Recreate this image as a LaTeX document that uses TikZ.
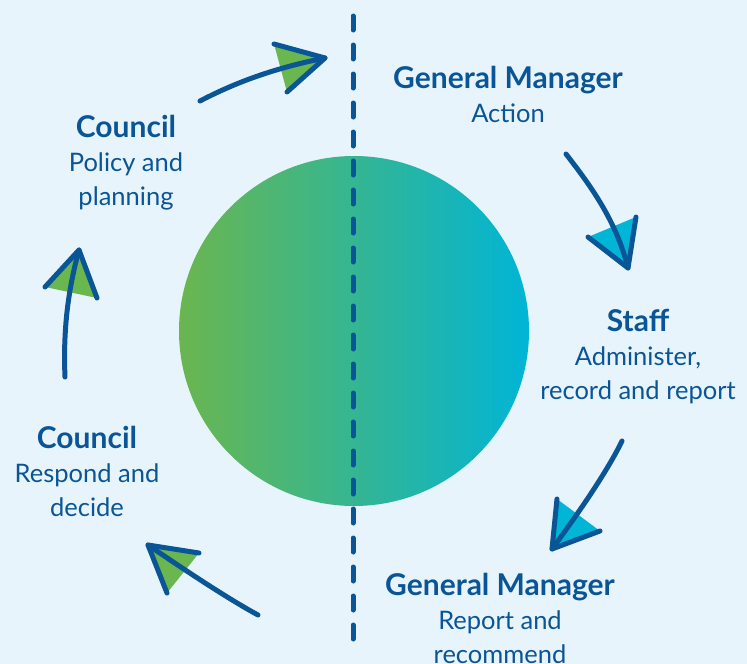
\documentclass[tikz,border=0pt]{standalone}
\usepackage{fontspec}
\setmainfont{Lato}
\newcommand{\hd}[1]{{\fontsize{30}{34}\selectfont\bfseries #1}}
\begin{document}
\begin{tikzpicture}[x=1pt,y=-1pt,
  lbl/.style={text=navyblue,align=center,inner sep=0pt,font=\fontsize{25.5}{34}\selectfont},
  conn/.style={draw=navyblue,line width=5pt,line cap=round,line join=round}]
\definecolor{navyblue}{HTML}{0A5596}
\definecolor{bg}{HTML}{E8F4FB}
\definecolor{lgreen}{HTML}{6AB64F}
\definecolor{lcyan}{HTML}{00B5D6}
\fill[bg] (0,0) rectangle (747,664);
\useasboundingbox (0,0) rectangle (747,664);
% circle
\shade[left color=lgreen,right color=lcyan] (354,331) circle (175);
% dashed divider
\coordinate (dtop) at (353,16);
\coordinate (dbot) at (353,650);
\draw[navyblue,line width=5pt,line cap=round,dash pattern=on 14pt off 15pt] (dtop) -- (dbot);
% labels
\node[lbl] (gm1) at (508,94) {\hd{General Manager}\\Action};
\node[lbl] (c1) at (126,163) {\hd{Council}\\Policy and\\planning};
\node[lbl] (st) at (638,357) {\hd{Staff}\\Administer,\\record and report};
\node[lbl] (c2) at (87,471) {\hd{Council}\\Respond and\\decide};
\node[lbl] (gm2) at (500,618) {\hd{General Manager}\\Report and\\recommend};
% arrow 1 (top left, green)
\coordinate (s1) at (200,101); \coordinate (t1) at (325,58);
\coordinate (a1) at (274,44); \coordinate (b1) at (287,92);
\fill[lgreen] (t1) -- (a1) -- (b1) -- cycle;
\draw[conn] (s1) .. controls (240,80) and (280,67) .. (t1);
\draw[conn] (a1) -- (t1) -- (b1);
% arrow 2 (top right, cyan)
\coordinate (s2) at (566,154); \coordinate (t2) at (628,268);
\coordinate (a2) at (588,237); \coordinate (b2) at (636,217);
\fill[lcyan] (t2) -- (a2) -- (b2) -- cycle;
\draw[conn] (s2) .. controls (590,185) and (616,220) .. (t2);
\draw[conn] (a2) -- (t2) -- (b2);
% arrow 3 (bottom right, cyan)
\coordinate (s3) at (622,441); \coordinate (t3) at (552,549);
\coordinate (a3) at (557,499); \coordinate (b3) at (600,531);
\fill[lcyan] (t3) -- (a3) -- (b3) -- cycle;
\draw[conn] (s3) .. controls (607,472) and (577,515) .. (t3);
\draw[conn] (a3) -- (t3) -- (b3);
% arrow 4 (bottom left, green)
\coordinate (s4) at (258,615); \coordinate (t4) at (148,545);
\coordinate (a4) at (199,553); \coordinate (b4) at (167,593);
\fill[lgreen] (t4) -- (a4) -- (b4) -- cycle;
\draw[conn] (s4) .. controls (225,597) and (182,568) .. (t4);
\draw[conn] (a4) -- (t4) -- (b4);
% arrow 5 (left, green)
\coordinate (s5) at (65,377); \coordinate (t5) at (79,250);
\coordinate (a5) at (45,287); \coordinate (b5) at (97,298);
\fill[lgreen] (t5) -- (a5) -- (b5) -- cycle;
\draw[conn] (s5) .. controls (63,330) and (68,290) .. (t5);
\draw[conn] (a5) -- (t5) -- (b5);
\end{tikzpicture}
\end{document}
